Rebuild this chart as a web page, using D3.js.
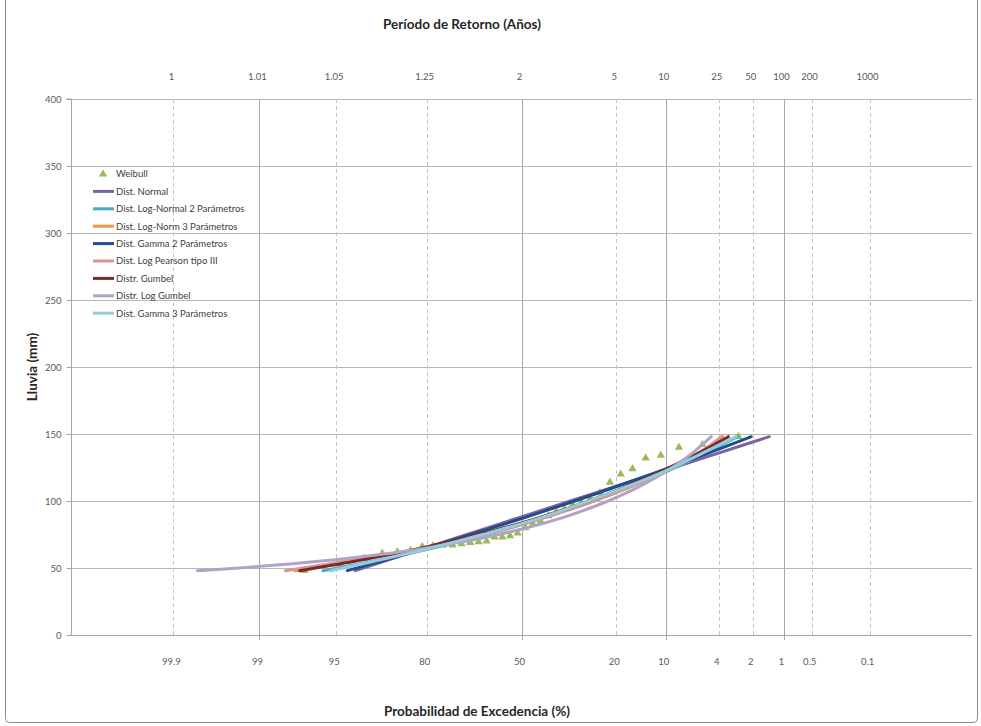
<!DOCTYPE html>
<html>
<head>
<meta charset="utf-8">
<script src="https://cdn.jsdelivr.net/npm/d3@7"></script>
<style>
  html, body { margin: 0; padding: 0; background: #fff; }
  svg { display: block; font-family: Lato, "Open Sans", "Liberation Sans", sans-serif; }
</style>
</head>
<body>
<svg id="chart" width="981" height="726"></svg>
<script>
// Probability axis: exceedance probability (%) and matching return period labels
const probTicks = [99.9, 99, 95, 80, 50, 20, 10, 4, 2, 1, 0.5, 0.1];
const probLabels = ["99.9", "99", "95", "80", "50", "20", "10", "4", "2", "1", "0.5", "0.1"];
const returnLabels = ["1", "1.01", "1.05", "1.25", "2", "5", "10", "25", "50", "100", "200", "1000"];
const solidTicks = [99, 50, 10, 1];
const yTicks = [0, 50, 100, 150, 200, 250, 300, 350, 400];

// Observed rainfall with Weibull plotting positions (exceedance %)
const weibullProb = [2.70, 5.41, 8.11, 10.81, 13.51, 16.22, 18.92, 21.62, 24.32, 27.03, 29.73, 32.43,
  35.14, 37.84, 40.54, 43.24, 45.95, 48.65, 51.35, 54.05, 56.76, 59.46, 62.16, 64.86,
  67.57, 70.27, 72.97, 75.68, 78.38, 81.08, 83.78, 86.49, 89.19, 91.89, 94.59, 97.30];
const weibullRain = [148, 142, 140, 134, 132, 124, 120, 114, 106, 102, 99, 97,
  94, 92, 89, 85, 83, 80, 76, 74, 73, 73, 70, 69.5,
  69, 68, 67, 67, 66.5, 66, 63, 62, 61, 57, 53, 48];

// Fitted distributions: rainfall levels and their exceedance probability (%)
const fitRain = [48, 55, 65, 75, 88, 100, 110, 122, 135, 148];
const normalProb    = [93.0, 88.9, 80.3, 68.6, 50.3, 33.2, 21.2, 10.7, 4.26, 1.39];
const logNormal2Prob = [96.1, 90.7, 78.1, 62.1, 41.4, 26.3, 17.2, 9.9, 5.3, 2.76];
const logNormal3Prob = [97.8, 93.5, 80.0, 63.0, 41.5, 26.0, 17.0, 10.2, 5.8, 3.8];
const gamma2Prob    = [93.9, 89.4, 79.9, 67.2, 48.3, 31.8, 20.7, 11.1, 5.08, 2.07];
const logPearsonProb = [98.2, 94.0, 80.5, 63.5, 41.5, 26.0, 17.3, 10.4, 6.0, 3.7];
const gumbelProb    = [97.56, 93.1, 81.2, 64.8, 43.2, 27.5, 18.2, 10.8, 6.0, 3.31];
const logGumbelProb = [99.8, 96.4, 80.0, 58.0, 35.2, 22.1, 15.2, 10.0, 6.6, 4.6];
const gamma3Prob    = [95.5, 90.5, 78.8, 63.5, 42.5, 27.5, 18.0, 10.3, 5.6, 2.85];

const seriesNames = ["Dist. Normal", "Dist. Log-Normal 2 Parámetros", "Dist. Log-Norm 3 Parámetros",
  "Dist. Gamma 2 Parámetros", "Dist. Log Pearson tipo III", "Distr. Gumbel", "Distr. Log Gumbel",
  "Dist. Gamma 3 Parámetros"];
const seriesProbs = [normalProb, logNormal2Prob, logNormal3Prob, gamma2Prob, logPearsonProb,
  gumbelProb, logGumbelProb, gamma3Prob];
const seriesColors = ["#7f62a1", "#4aabc5", "#f79646", "#1f4e8c", "#d99694", "#7b2a2a", "#b3a2c7", "#93cddd"];

// Inverse standard normal CDF (Acklam's rational approximation)
function normInv(p) {
  const a = [-3.969683028665376e+01, 2.209460984245205e+02, -2.759285104469687e+02, 1.383577518672690e+02, -3.066479806614716e+01, 2.506628277459239e+00];
  const b = [-5.447609879822406e+01, 1.615858368580409e+02, -1.556989798598866e+02, 6.680131188771972e+01, -1.328068155288572e+01];
  const c = [-7.784894002430293e-03, -3.223964580411365e-01, -2.400758277161838e+00, -2.549671010229297e+00, 4.374664141464968e+00, 2.938163982698783e+00];
  const d = [7.784695709041462e-03, 3.224671290700398e-01, 2.445134137142996e+00, 3.754408661907416e+00];
  const pl = 0.02425;
  let q, r;
  if (p < pl) {
    q = Math.sqrt(-2 * Math.log(p));
    return (((((c[0]*q+c[1])*q+c[2])*q+c[3])*q+c[4])*q+c[5]) / ((((d[0]*q+d[1])*q+d[2])*q+d[3])*q+1);
  } else if (p <= 1 - pl) {
    q = p - 0.5; r = q * q;
    return (((((a[0]*r+a[1])*r+a[2])*r+a[3])*r+a[4])*r+a[5])*q / (((((b[0]*r+b[1])*r+b[2])*r+b[3])*r+b[4])*r+1);
  } else {
    q = Math.sqrt(-2 * Math.log(1 - p));
    return -(((((c[0]*q+c[1])*q+c[2])*q+c[3])*q+c[4])*q+c[5]) / ((((d[0]*q+d[1])*q+d[2])*q+d[3])*q+1);
  }
}

const svg = d3.select("#chart");
const plot = { left: 71, right: 972, top: 99, bottom: 635 };

// Normal probability scale: exceedance % -> standard normal variate -> pixels
const zScale = d3.scaleLinear().domain([-4, 4]).range([plot.left, plot.right]);
const xProb = p => zScale(normInv(1 - p / 100));
const y = d3.scaleLinear().domain([0, 400]).range([plot.bottom, plot.top]);

// Outer chart frame
svg.append("rect").attr("x", 5.5).attr("y", -4).attr("width", 972).attr("height", 726.5)
  .attr("rx", 4).attr("fill", "#fff").attr("stroke", "#8c8c8c").attr("stroke-width", 1);

// Horizontal gridlines
svg.append("g").selectAll("line").data(yTicks.filter(v => v > 0)).join("line")
  .attr("x1", plot.left).attr("x2", plot.right)
  .attr("y1", d => Math.round(y(d)) + 0.5).attr("y2", d => Math.round(y(d)) + 0.5)
  .attr("stroke", "#b7b7b7").attr("stroke-width", 1);

// Vertical probability gridlines (solid at 99, 50, 10, 1; dashed otherwise)
svg.append("g").selectAll("line").data(probTicks).join("line")
  .attr("x1", d => Math.round(xProb(d)) + 0.5).attr("x2", d => Math.round(xProb(d)) + 0.5)
  .attr("y1", plot.top).attr("y2", d => solidTicks.includes(d) ? plot.bottom + 5 : plot.bottom)
  .attr("stroke", d => solidTicks.includes(d) ? "#a8a8a8" : "#c4c4c4")
  .attr("stroke-dasharray", d => solidTicks.includes(d) ? null : "4,3")
  .attr("stroke-width", 1);

// Y axis with Excel-style ticks
const yAxis = d3.axisLeft(y).tickValues(yTicks).tickSize(5).tickPadding(5).tickFormat(d3.format("d"));
const gy = svg.append("g").attr("transform", `translate(${plot.left + 0.5},0)`).call(yAxis);
gy.select(".domain").attr("stroke", "#a6a6a6").attr("d", `M-5,${plot.top}H0V${plot.bottom + 0.5}`);
gy.selectAll(".tick line").attr("stroke", "#a6a6a6");
gy.selectAll(".tick text").attr("fill", "#595959").style("font-size", "9.5px")
  .style("font-family", "Lato, 'Open Sans', sans-serif");

// Bottom axis baseline
svg.append("line").attr("x1", plot.left).attr("x2", plot.right)
  .attr("y1", plot.bottom + 0.5).attr("y2", plot.bottom + 0.5)
  .attr("stroke", "#a6a6a6");

// Probability labels below, return-period labels above
svg.append("g").selectAll("text").data(probTicks).join("text")
  .attr("x", d => xProb(d) - 2).attr("y", 665)
  .attr("text-anchor", "middle").attr("fill", "#595959").style("font-size", "9.5px")
  .text((d, i) => probLabels[i]);
svg.append("g").selectAll("text").data(probTicks).join("text")
  .attr("x", d => xProb(d) - 2).attr("y", 80)
  .attr("text-anchor", "middle").attr("fill", "#595959").style("font-size", "9.5px")
  .text((d, i) => returnLabels[i]);

// Titles
svg.append("text").attr("x", 462).attr("y", 29).attr("text-anchor", "middle")
  .attr("fill", "#262626").style("font-size", "13.5px").style("font-weight", "bold")
  .text("Período de Retorno (Años)");
svg.append("text").attr("x", 477).attr("y", 716).attr("text-anchor", "middle")
  .attr("fill", "#262626").style("font-size", "13.5px").style("font-weight", "bold")
  .text("Probabilidad de Excedencia (%)");
svg.append("text").attr("transform", "translate(37,367) rotate(-90)").attr("text-anchor", "middle")
  .attr("fill", "#262626").style("font-size", "13.5px").style("font-weight", "bold")
  .text("Lluvia (mm)");

// Weibull observations as triangles
const tri = d3.symbol().type(d3.symbolTriangle).size(30);
svg.append("g").selectAll("path").data(weibullProb).join("path")
  .attr("d", tri)
  .attr("transform", (d, i) => `translate(${xProb(d)},${y(weibullRain[i])})`)
  .attr("fill", "#9bbb59");

// Fitted distribution curves
const line = d3.line().x(d => xProb(d[0])).y(d => y(d[1])).curve(d3.curveMonotoneX);
seriesProbs.forEach((probs, k) => {
  const pts = probs.map((p, i) => [p, fitRain[i]]);
  svg.append("path").datum(pts)
    .attr("d", line)
    .attr("fill", "none").attr("stroke", seriesColors[k])
    .attr("stroke-width", 3).attr("stroke-linecap", "round");
});

// Legend
const legend = svg.append("g");
const rowY = i => 174 + i * 17.4;
legend.append("path").attr("d", tri).attr("transform", `translate(103,${rowY(0)})`).attr("fill", "#9bbb59");
legend.append("text").attr("x", 116).attr("y", rowY(0) + 3.3).attr("fill", "#404040")
  .style("font-size", "9.5px").text("Weibull");
seriesNames.forEach((name, k) => {
  const yy = rowY(k + 1);
  legend.append("line").attr("x1", 93).attr("x2", 114).attr("y1", yy).attr("y2", yy)
    .attr("stroke", seriesColors[k]).attr("stroke-width", 3);
  legend.append("text").attr("x", 116).attr("y", yy + 3.3).attr("fill", "#404040")
    .style("font-size", "9.5px").text(name);
});
</script>
</body>
</html>
